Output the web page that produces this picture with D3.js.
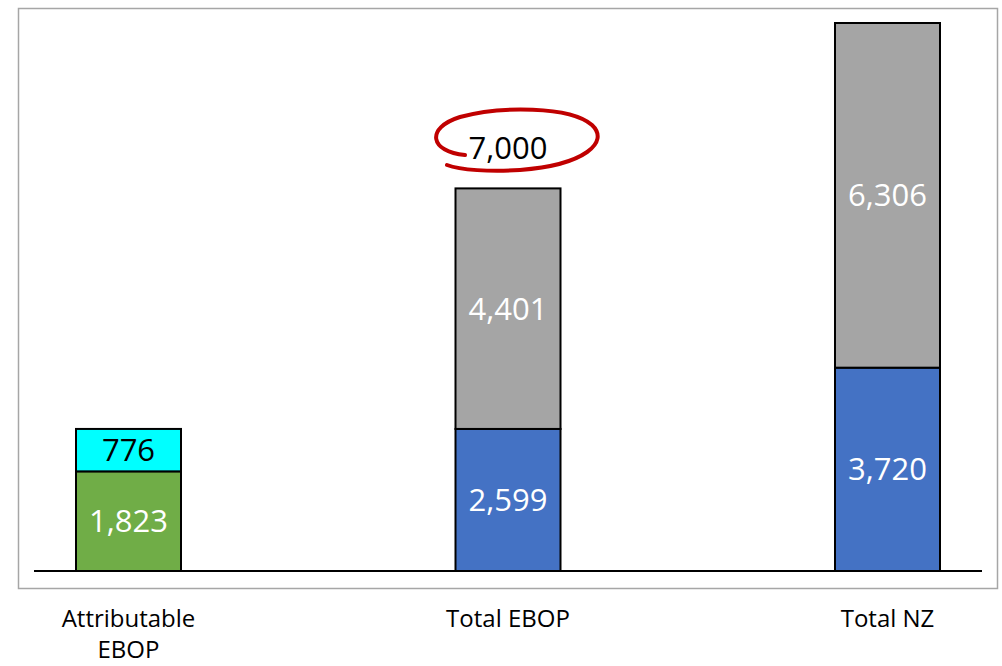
<!DOCTYPE html>
<html><head><meta charset="utf-8">
<script src="https://cdn.jsdelivr.net/npm/d3@7"></script>
<style>html,body{margin:0;padding:0;background:#fff;}svg{display:block;}</style>
</head><body>
<svg id="c" width="1002" height="666"></svg>
<script>
const categories = ["Attributable EBOP", "Total EBOP", "Total NZ"];
const categoryLines = [["Attributable", "EBOP"], ["Total EBOP"], ["Total NZ"]];
const bottomValues = [1823, 2599, 3720];
const topValues = [776, 4401, 6306];
const bottomColors = ["#70ad47", "#4472c4", "#4472c4"];
const topColors = ["#00ffff", "#a5a5a5", "#a5a5a5"];
const bottomTextColors = ["#ffffff", "#ffffff", "#ffffff"];
const topTextColors = ["#000000", "#ffffff", "#ffffff"];
const highlightIndex = 1;
const highlightLabel = "7,000";

const svg = d3.select("#c");
const font = "'Open Sans', 'Noto Sans', sans-serif";

// frame
svg.append("rect").attr("x", 18.5).attr("y", 8.5).attr("width", 979).attr("height", 580)
  .attr("fill", "#fff").attr("stroke", "#a6a6a6").attr("stroke-width", 1.5);

const x = d3.scalePoint().domain(categories).range([128.5, 887.5]);
const barW = 105;
const totals = categories.map((c, i) => bottomValues[i] + topValues[i]);
const y = d3.scaleLinear().domain([0, d3.max(totals)]).range([571, 23]);

const g = svg.append("g");
const fmt = d3.format(",");
categories.forEach((c, i) => {
  const cx = x(c);
  g.append("rect").attr("x", cx - barW / 2).attr("width", barW)
    .attr("y", y(bottomValues[i])).attr("height", y(0) - y(bottomValues[i]))
    .attr("fill", bottomColors[i]).attr("stroke", "#000").attr("stroke-width", 2);
  const t = bottomValues[i] + topValues[i];
  g.append("rect").attr("x", cx - barW / 2).attr("width", barW)
    .attr("y", y(t)).attr("height", y(bottomValues[i]) - y(t))
    .attr("fill", topColors[i]).attr("stroke", "#000").attr("stroke-width", 2);
  g.append("text").attr("x", cx).attr("y", (y(0) + y(bottomValues[i])) / 2)
    .attr("dy", "0.36em").attr("text-anchor", "middle")
    .attr("font-family", font).attr("font-size", 31).attr("fill", bottomTextColors[i])
    .text(fmt(bottomValues[i]));
  g.append("text").attr("x", cx).attr("y", (y(bottomValues[i]) + y(t)) / 2)
    .attr("dy", "0.36em").attr("text-anchor", "middle")
    .attr("font-family", font).attr("font-size", 31).attr("fill", topTextColors[i])
    .text(fmt(topValues[i]));
  const lab = g.append("text").attr("text-anchor", "middle")
    .attr("font-family", font).attr("font-size", 24).attr("fill", "#000");
  categoryLines[i].forEach((line, j) => {
    lab.append("tspan").attr("x", cx).attr("y", 627 + j * 31).text(line);
  });
});

// baseline
svg.append("line").attr("x1", 34).attr("x2", 982).attr("y1", y(0)).attr("y2", y(0))
  .attr("stroke", "#000").attr("stroke-width", 2);

// highlight label
const hx = x(categories[highlightIndex]);
svg.append("text").attr("x", hx).attr("y", 148).attr("dy", "0.36em")
  .attr("text-anchor", "middle").attr("font-family", font).attr("font-size", 31)
  .attr("fill", "#000").text(highlightLabel);
svg.append("path")
  .attr("d", `M${hx-43},155 C${hx-78},152 ${hx-83},128 ${hx-48},117 C${hx-8},106 ${hx+62},106 ${hx+84},125 C${hx+102},142 ${hx+77},165 ${hx+12},170 C${hx-18},172 ${hx-48},170 ${hx-61},165`)
  .attr("fill", "none").attr("stroke", "#c00000").attr("stroke-width", 4).attr("stroke-linecap", "round");
</script>
</body></html>
